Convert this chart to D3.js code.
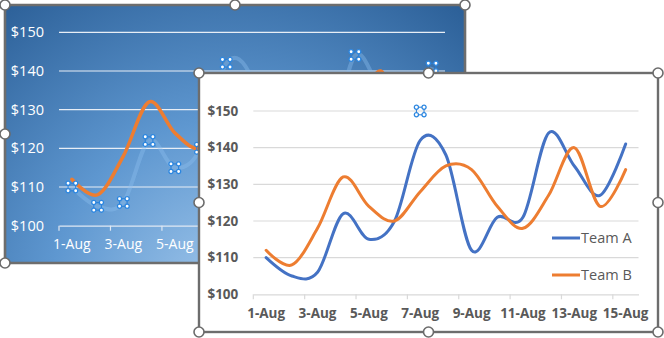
<!DOCTYPE html>
<html><head><meta charset="utf-8">
<script src="https://cdn.jsdelivr.net/npm/d3@7"></script>
<style>
html,body{margin:0;padding:0;background:#fff;}
svg{display:block;}
</style></head>
<body>
<svg id="c" width="664" height="338"></svg>
<script>
const categories = ["1-Aug","2-Aug","3-Aug","4-Aug","5-Aug","6-Aug","7-Aug","8-Aug","9-Aug","10-Aug","11-Aug","12-Aug","13-Aug","14-Aug","15-Aug"];
const teamA = [110,105,106,122,115,120,142,138,112,121,121,144,135,127,141];
const teamB = [112,108,118,132,124,120,128,135,134,124,118,127,140,124,134];
const seriesNames = ["Team A","Team B"];
const yTicks = [100,110,120,130,140,150];
const xTickLabels = ["1-Aug","3-Aug","5-Aug","7-Aug","9-Aug","11-Aug","13-Aug","15-Aug"];

const svg = d3.select("#c");
const defs = svg.append("defs");
const BLUE = "#4472C4", ORANGE = "#ED7D31";
const FONT = "'Open Sans', 'Segoe UI', sans-serif";

function handle(g, x, y){
  g.append("circle").attr("cx",x).attr("cy",y).attr("r",5)
    .attr("fill","#fff").attr("stroke","#6b6b6b").attr("stroke-width",1.6);
}
function selMarker(g, x, y){
  const m = g.append("g").attr("transform",`translate(${x},${y})`);
  const o = 3.8;
  m.append("rect").attr("x",-o).attr("y",-o).attr("width",2*o).attr("height",2*o)
    .attr("fill","none").attr("stroke","#2b7fd6").attr("stroke-width",1);
  [[-o,-o],[o,-o],[-o,o],[o,o]].forEach(([a,b])=>{
    m.append("circle").attr("cx",a).attr("cy",b).attr("r",2.1)
      .attr("fill","#fff").attr("stroke","#2b86e0").attr("stroke-width",1.3);
  });
}

const L = {x0:5, y0:5, x1:465, y1:263, px0:59, px1:445, py0:225.7, py1:32.3};
const R = {x0:199, y0:73, x1:658, y1:332, px0:253.3, px1:638.5, py0:294.3, py1:111};

// ---------- Back chart (gradient) ----------
const grad = defs.append("radialGradient").attr("id","bg")
  .attr("gradientUnits","userSpaceOnUse").attr("cx",230).attr("cy",300).attr("r",400);
grad.append("stop").attr("offset","0").attr("stop-color","#a2c8ec");
grad.append("stop").attr("offset","0.45").attr("stop-color","#5e97d0");
grad.append("stop").attr("offset","1").attr("stop-color","#255890");
defs.append("clipPath").attr("id","clipL").append("rect")
  .attr("x",L.x0).attr("y",L.y0).attr("width",L.x1-L.x0).attr("height",L.y1-L.y0);

const gL = svg.append("g");
gL.append("rect").attr("x",L.x0).attr("y",L.y0).attr("width",L.x1-L.x0).attr("height",L.y1-L.y0)
  .attr("rx",2).attr("fill","url(#bg)");

const xL = d3.scaleBand().domain(categories).range([L.px0,L.px1]);
const yL = d3.scaleLinear().domain([100,150]).range([L.py0,L.py1]);
const gLc = gL.append("g").attr("clip-path","url(#clipL)");

gLc.selectAll(".gl").data(yTicks.slice(1)).join("line")
  .attr("x1",L.px0).attr("x2",L.px1).attr("y1",d=>yL(d)).attr("y2",d=>yL(d))
  .attr("stroke","#e8eef6").attr("stroke-width",1.2);
// only the labels left of the front chart are visible
const visL = xTickLabels.filter(d=>xL(d)+xL.bandwidth()/2 < R.x0 - 10);
const axL = gLc.append("g").attr("transform",`translate(0,${L.py0})`)
  .call(d3.axisBottom(xL).tickValues(visL).tickSize(0).tickPadding(13));
axL.select(".domain").attr("stroke","#dfe8f3").attr("stroke-width",1.2);
axL.selectAll("text").attr("fill","#fff").style("font-family",FONT).style("font-size","14px");
gLc.selectAll(".tkL").data(xTickLabels).join("line")
  .attr("x1",d=>xL(d)).attr("x2",d=>xL(d)).attr("y1",L.py0).attr("y2",L.py0+5)
  .attr("stroke","#dfe8f3").attr("stroke-width",1.2);
gLc.selectAll(".ylL").data(yTicks).join("text")
  .attr("x",L.px0-15).attr("y",d=>yL(d)).attr("dy","0.35em").attr("text-anchor","end")
  .attr("fill","#fff").style("font-family",FONT).style("font-size","14.5px").text(d=>"$"+d);

const lineL = d3.line().x((d,i)=>xL(categories[i])+xL.bandwidth()/2).y(d=>yL(d)).curve(d3.curveCardinal.tension(0));
gLc.append("path").attr("d",lineL(teamA)).attr("fill","none")
  .attr("stroke","#8fc0ef").attr("stroke-opacity",0.38).attr("stroke-width",4);
gLc.append("path").attr("d",lineL(teamB)).attr("fill","none")
  .attr("stroke",ORANGE).attr("stroke-width",3.5).attr("stroke-linecap","round");
teamA.forEach((v,i)=>selMarker(gLc, xL(categories[i])+xL.bandwidth()/2, yL(v)));

gL.append("rect").attr("x",L.x0).attr("y",L.y0).attr("width",L.x1-L.x0).attr("height",L.y1-L.y0)
  .attr("rx",2).attr("fill","none").attr("stroke","#6d6d6d").attr("stroke-width",2.6);
[[L.x0,L.y0],[(L.x0+L.x1)/2,L.y0],[L.x1,L.y0],[L.x0,(L.y0+L.y1)/2],[L.x1,(L.y0+L.y1)/2],
 [L.x0,L.y1],[(L.x0+L.x1)/2,L.y1],[L.x1,L.y1]].forEach(([a,b])=>handle(gL,a,b));

// ---------- Front chart (white) ----------
const gR = svg.append("g");
gR.append("rect").attr("x",R.x0).attr("y",R.y0).attr("width",R.x1-R.x0).attr("height",R.y1-R.y0)
  .attr("fill","#fff");
const xR = d3.scaleBand().domain(categories).range([R.px0,R.px1]);
const yR = d3.scaleLinear().domain([100,150]).range([R.py0,R.py1]);

gR.selectAll(".gr").data(yTicks.slice(1)).join("line")
  .attr("x1",R.px0).attr("x2",R.px1).attr("y1",d=>yR(d)).attr("y2",d=>yR(d))
  .attr("stroke","#d9d9d9").attr("stroke-width",1.2);
const axR = gR.append("g").attr("transform",`translate(0,${R.py0})`)
  .call(d3.axisBottom(xR).tickValues(xTickLabels).tickSize(0).tickPadding(14));
axR.select(".domain").attr("stroke","#d9d9d9").attr("stroke-width",1.2);
axR.selectAll("text").attr("fill","#595959").style("font-family",FONT)
  .style("font-size","13.5px").style("font-weight","700");
gR.selectAll(".tkR").data(xTickLabels).join("line")
  .attr("x1",d=>xR(d)).attr("x2",d=>xR(d)).attr("y1",R.py0).attr("y2",R.py0+5)
  .attr("stroke","#d9d9d9").attr("stroke-width",1.2);
gR.selectAll(".ylR").data(yTicks).join("text")
  .attr("x",R.px0-15).attr("y",d=>yR(d)).attr("dy","0.35em").attr("text-anchor","end")
  .attr("fill","#595959").style("font-family",FONT).style("font-size","13.5px").style("font-weight","700")
  .text(d=>"$"+d);

const lineR = d3.line().x((d,i)=>xR(categories[i])+xR.bandwidth()/2).y(d=>yR(d)).curve(d3.curveCardinal.tension(0));
gR.append("path").attr("d",lineR(teamA)).attr("fill","none").attr("stroke",BLUE)
  .attr("stroke-width",3).attr("stroke-linecap","round");
gR.append("path").attr("d",lineR(teamB)).attr("fill","none").attr("stroke",ORANGE)
  .attr("stroke-width",3).attr("stroke-linecap","round");

const legY = [238, 275];
const legColors = [BLUE, ORANGE];
seriesNames.forEach((n,i)=>{
  gR.append("line").attr("x1",552).attr("x2",580).attr("y1",legY[i]).attr("y2",legY[i])
    .attr("stroke",legColors[i]).attr("stroke-width",3);
  gR.append("text").attr("x",581).attr("y",legY[i]).attr("dy","0.35em")
    .attr("fill","#595959").style("font-family",FONT).style("font-size","14.5px").text(n);
});

selMarker(gR, xR("7-Aug")+xR.bandwidth()/2, yR(150));

gR.append("rect").attr("x",R.x0).attr("y",R.y0).attr("width",R.x1-R.x0).attr("height",R.y1-R.y0)
  .attr("fill","none").attr("stroke","#6d6d6d").attr("stroke-width",2.4);
[[R.x0,R.y0],[(R.x0+R.x1)/2,R.y0],[R.x1,R.y0],[R.x0,(R.y0+R.y1)/2],[R.x1,(R.y0+R.y1)/2],
 [R.x0,R.y1],[(R.x0+R.x1)/2,R.y1],[R.x1,R.y1]].forEach(([a,b])=>handle(gR,a,b));
</script>
</body></html>
